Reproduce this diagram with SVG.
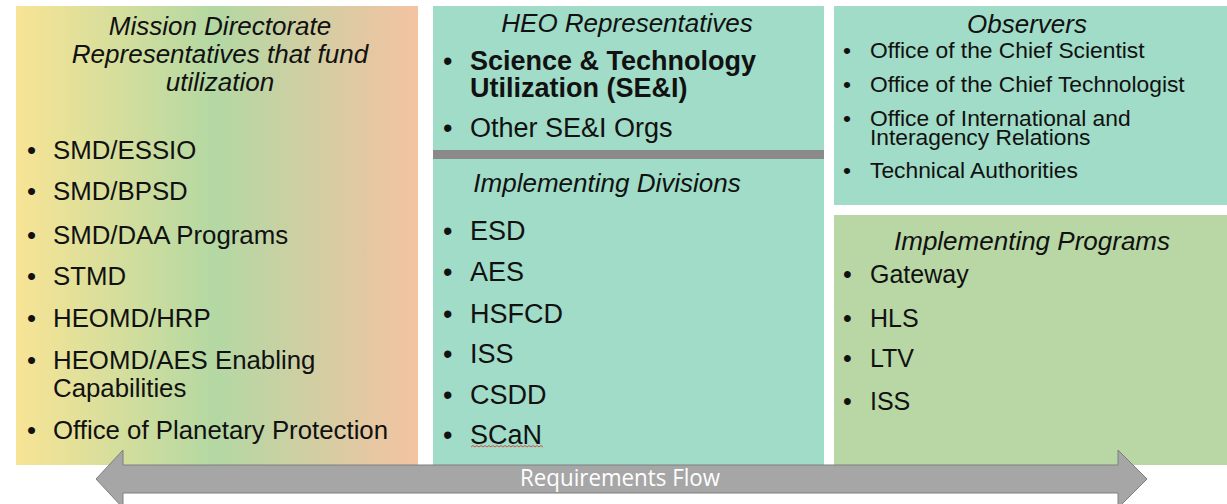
<svg xmlns="http://www.w3.org/2000/svg" width="1227" height="504" viewBox="0 0 1227 504">
<defs>
<linearGradient id="gradLeft" x1="0" y1="0" x2="1" y2="0">
<stop offset="0" stop-color="#f8e495"/>
<stop offset="0.5" stop-color="#b3d8a3"/>
<stop offset="1" stop-color="#f4c3a2"/>
</linearGradient>
<style>
text{font-family:"Liberation Sans",Arial,sans-serif;fill:#111;}
.title{font-style:italic;font-size:26px;text-anchor:middle;}
.item{font-size:25.8px;}
.prog{font-size:25px;}
.mid{font-size:27px;}
.obs{font-size:22.8px;}
.bold{font-weight:bold;}
.teal{fill:#a0dcc7;}
.green{fill:#b8d7a5;}
</style>
</defs>
<rect width="1227" height="504" fill="#ffffff"/>

<g id="mission-directorate">
<rect x="16" y="6" width="402" height="459" fill="url(#gradLeft)"/>
<text class="title" x="220" y="35">Mission Directorate</text>
<text class="title" x="220" y="63">Representatives that fund</text>
<text class="title" x="220" y="91">utilization</text>
<g class="item">
<text x="27" y="159">•</text><text x="53" y="159">SMD/ESSIO</text>
<text x="27" y="200">•</text><text x="53" y="200">SMD/BPSD</text>
<text x="27" y="244">•</text><text x="53" y="244">SMD/DAA Programs</text>
<text x="27" y="285">•</text><text x="53" y="285">STMD</text>
<text x="27" y="327">•</text><text x="53" y="327">HEOMD/HRP</text>
<text x="27" y="369">•</text><text x="53" y="369">HEOMD/AES Enabling</text>
<text x="53" y="397">Capabilities</text>
<text x="27" y="439">•</text><text x="53" y="439">Office of Planetary Protection</text>
</g>
</g>

<g id="heo-representatives">
<rect class="teal" x="433" y="6" width="391" height="459"/>
<text class="title" x="627" y="32">HEO Representatives</text>
<g class="mid">
<text x="443" y="70">•</text><text class="bold" x="470" y="70">Science &amp; Technology</text>
<text class="bold" x="470" y="97">Utilization (SE&amp;I)</text>
<text x="443" y="137">•</text><text x="470" y="137">Other SE&amp;I Orgs</text>
</g>
<rect x="433" y="150" width="391" height="9" fill="#8a8a8a"/>
</g>

<g id="implementing-divisions">
<text class="title" x="607" y="192">Implementing Divisions</text>
<g class="mid">
<text x="443" y="240">•</text><text x="470" y="240">ESD</text>
<text x="443" y="281">•</text><text x="470" y="281">AES</text>
<text x="443" y="323">•</text><text x="470" y="323">HSFCD</text>
<text x="443" y="363">•</text><text x="470" y="363">ISS</text>
<text x="443" y="404">•</text><text x="470" y="404">CSDD</text>
<text x="443" y="444">•</text><text x="470" y="444">SCaN</text>
</g>
<path d="M471 447 l2 -1.5 l2 1.5 l2 -1.5 l2 1.5 l2 -1.5 l2 1.5 l2 -1.5 l2 1.5 l2 -1.5 l2 1.5 l2 -1.5 l2 1.5 l2 -1.5 l2 1.5 l2 -1.5 l2 1.5 l2 -1.5 l2 1.5 l2 -1.5 l2 1.5 l2 -1.5 l2 1.5 l2 -1.5 l2 1.5 l2 -1.5 l2 1.5 l2 -1.5 l2 1.5 l2 -1.5 l2 1.5 l2 -1.5 l2 1.5 l2 -1.5 l2 1.5 l2 -1.5 l2 1.5" fill="none" stroke="#d9413a" stroke-width="0.9"/>
</g>

<g id="observers">
<rect class="teal" x="834" y="6" width="393" height="199"/>
<text class="title" x="1027" y="33">Observers</text>
<g class="obs">
<text x="843" y="58">•</text><text x="870" y="58">Office of the Chief Scientist</text>
<text x="843" y="92">•</text><text x="870" y="92">Office of the Chief Technologist</text>
<text x="843" y="126">•</text><text x="870" y="126">Office of International and</text>
<text x="870" y="145">Interagency Relations</text>
<text x="843" y="178">•</text><text x="870" y="178">Technical Authorities</text>
</g>
</g>

<g id="implementing-programs">
<rect class="green" x="834" y="215" width="393" height="250"/>
<text class="title" x="1032" y="250">Implementing Programs</text>
<g class="prog">
<text x="843" y="283">•</text><text x="870" y="283">Gateway</text>
<text x="843" y="327">•</text><text x="870" y="327">HLS</text>
<text x="843" y="367">•</text><text x="870" y="367">LTV</text>
<text x="843" y="410">•</text><text x="870" y="410">ISS</text>
</g>
</g>

<g id="connectors">
<path d="M96 479 L123 450 L123 465 L1118 465 L1118 450 L1147 479 L1118 508 L1118 493 L123 493 L123 508 Z" fill="#a6a6a6" stroke="#7f7f7f" stroke-width="1"/>
<text x="620" y="486" text-anchor="middle" font-size="24" textLength="200" lengthAdjust="spacingAndGlyphs" style="fill:#ffffff;font-family:'Open Sans',sans-serif">Requirements Flow</text>
</g>
</svg>
